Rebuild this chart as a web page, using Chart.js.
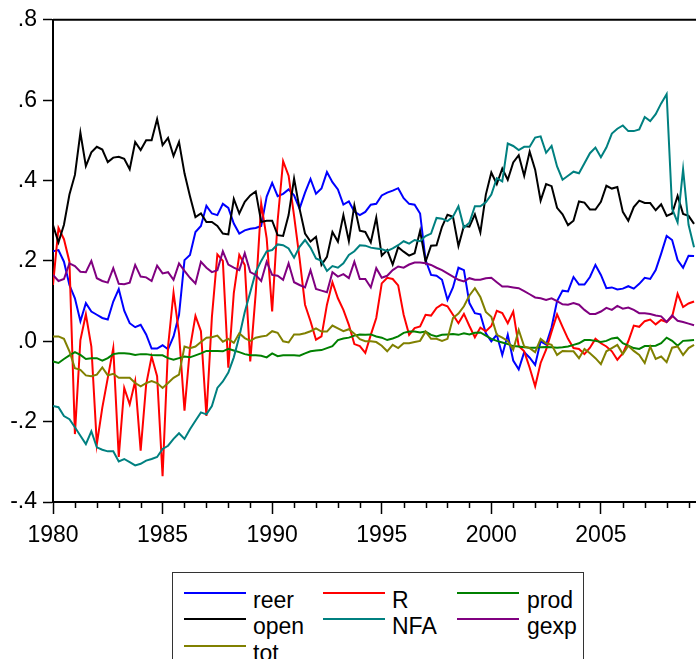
<!DOCTYPE html>
<html lang="en">
<head>
<meta charset="UTF-8">
<title>reer, open, tot, R, NFA, prod, gexp</title>
<script src="https://cdn.jsdelivr.net/npm/chart.js"></script>
<style>
    body {
        margin: 0;
        background: #fff;
        overflow: hidden;
        font-family: 'Liberation Sans', Arial, sans-serif;
    }
    #wrap {
        position: absolute;
        left: 0;
        top: 0;
        width: 710px;
        height: 560px;
    }
    .legend {
        position: absolute;
        left: 172px;
        top: 572px;
        width: 412px;
        height: 110px;
        border: 1px solid #333;
        box-sizing: border-box;
    }
    .legend .item {
        position: absolute;
        font-size: 23px;
        line-height: 23px;
        color: #000;
    }
    .legend .swatch {
        position: absolute;
        width: 62px;
        height: 2px;
    }
</style>
</head>
<body>
<div id="wrap"><canvas id="chart" width="710" height="560"></canvas></div>
<div class="legend" id="legend"></div>

<script>
    // quarterly data, 1980Q1 onwards
    const startYear = 1980;
    const yTicks = [-0.4, -0.2, 0, 0.2, 0.4, 0.6, 0.8];

    const reer = [0.224,0.227,0.198,0.14,0.107,0.05,0.095,0.074,0.066,0.058,
        0.054,0.099,0.13,0.076,0.045,0.035,0.041,0.017,-0.018,-0.018,
        -0.01,-0.02,0.012,0.066,0.202,0.215,0.272,0.287,0.337,0.318,
        0.314,0.342,0.332,0.293,0.268,0.276,0.28,0.282,0.287,0.36,
        0.394,0.361,0.367,0.378,0.363,0.33,0.37,0.404,0.367,0.38,
        0.421,0.396,0.378,0.34,0.348,0.323,0.314,0.322,0.34,0.342,
        0.363,0.37,0.375,0.381,0.356,0.342,0.34,0.318,0.202,0.165,
        0.163,0.153,0.103,0.134,0.183,0.177,0.095,0.07,0.067,0.02,
        0.0,0.016,-0.034,0.016,-0.048,-0.07,-0.027,-0.041,-0.059,0.0,
        -0.008,0.035,0.1,0.126,0.124,0.16,0.141,0.141,0.16,0.19,
        0.165,0.132,0.134,0.129,0.131,0.137,0.131,0.143,0.158,0.155,
        0.177,0.218,0.262,0.252,0.202,0.183,0.213,0.212];

    const open = [0.289,0.246,0.29,0.365,0.414,0.519,0.436,0.47,0.484,0.477,
        0.446,0.457,0.459,0.454,0.428,0.496,0.476,0.5,0.5,0.553,
        0.488,0.506,0.461,0.496,0.418,0.361,0.309,0.318,0.297,0.297,
        0.287,0.268,0.266,0.354,0.318,0.347,0.363,0.373,0.297,0.3,
        0.3,0.264,0.262,0.314,0.405,0.33,0.268,0.248,0.26,0.19,
        0.21,0.272,0.248,0.314,0.249,0.338,0.275,0.272,0.246,0.308,
        0.213,0.227,0.191,0.234,0.223,0.213,0.219,0.275,0.198,0.238,
        0.239,0.285,0.315,0.31,0.237,0.287,0.285,0.316,0.271,0.365,
        0.42,0.391,0.43,0.402,0.445,0.463,0.412,0.472,0.427,0.35,
        0.391,0.386,0.332,0.316,0.289,0.3,0.348,0.345,0.328,0.328,
        0.347,0.387,0.38,0.384,0.322,0.3,0.334,0.35,0.344,0.344,
        0.326,0.341,0.312,0.318,0.362,0.317,0.312,0.292];

    const tot = [0.012,0.012,0.006,-0.025,-0.067,-0.071,-0.085,-0.087,-0.083,-0.065,
        -0.085,-0.081,-0.091,-0.091,-0.091,-0.104,-0.112,-0.104,-0.099,-0.104,
        -0.116,-0.104,-0.091,-0.083,-0.013,-0.017,-0.013,-0.002,0.009,0.01,
        0.014,-0.001,0.006,-0.004,0.02,0.008,0.001,0.009,0.012,0.014,
        0.025,0.021,0.0,-0.003,0.017,0.017,0.02,0.025,0.032,0.024,
        0.024,0.039,0.032,0.025,0.03,0.019,0.005,0.0,0.0,-0.002,
        -0.011,-0.025,-0.009,-0.017,-0.005,-0.005,-0.002,0.001,0.024,0.006,
        0.006,0.001,0.006,0.058,0.069,0.087,0.114,0.132,0.11,0.073,
        0.061,0.016,0.009,0.001,-0.021,0.028,-0.013,-0.017,-0.027,0.006,
        -0.005,-0.009,-0.034,-0.024,-0.025,-0.025,-0.042,-0.019,-0.03,-0.042,
        -0.057,-0.025,-0.017,-0.009,-0.032,-0.011,-0.024,-0.034,-0.054,-0.013,
        -0.044,-0.038,-0.052,-0.016,-0.013,-0.034,-0.017,-0.009];

    const R = [0.14,0.282,0.254,0.198,-0.231,0.003,0.067,-0.013,-0.256,-0.165,
        -0.091,-0.017,-0.288,-0.116,-0.157,-0.099,-0.272,-0.108,-0.038,-0.087,
        -0.336,-0.013,0.121,0.02,-0.173,-0.017,0.063,0.025,-0.186,0.06,
        0.216,0.2,-0.066,0.12,0.215,0.19,-0.05,0.12,0.343,0.256,
        0.074,0.3,0.448,0.412,0.312,0.206,0.091,0.05,0.004,0.012,
        0.091,0.147,0.107,0.078,0.041,-0.007,-0.012,-0.029,0.016,0.058,
        0.144,0.158,0.155,0.139,0.066,0.016,0.033,0.037,0.066,0.064,
        0.083,0.092,0.087,0.066,0.045,0.068,0.038,0.01,0.034,0.025,
        0.038,0.076,0.07,0.045,0.074,-0.012,-0.025,-0.066,-0.112,-0.054,
        -0.021,0.024,0.067,0.036,0.006,-0.017,-0.019,-0.032,-0.016,0.006,
        -0.005,-0.013,-0.025,-0.046,-0.03,0.0,0.039,0.036,0.05,0.054,
        0.042,0.053,0.048,0.061,0.118,0.085,0.094,0.099];

    const NFA = [-0.161,-0.164,-0.186,-0.194,-0.214,-0.235,-0.256,-0.224,-0.264,-0.27,
        -0.274,-0.274,-0.299,-0.293,-0.301,-0.309,-0.305,-0.297,-0.293,-0.288,
        -0.268,-0.26,-0.243,-0.229,-0.243,-0.219,-0.198,-0.177,-0.182,-0.161,
        -0.116,-0.1,-0.078,-0.04,0.012,0.073,0.122,0.172,0.2,0.224,
        0.227,0.241,0.239,0.231,0.208,0.235,0.252,0.233,0.206,0.2,
        0.175,0.187,0.183,0.194,0.215,0.224,0.239,0.238,0.233,0.231,
        0.229,0.225,0.231,0.239,0.249,0.243,0.252,0.249,0.262,0.268,
        0.307,0.305,0.299,0.31,0.336,0.283,0.295,0.336,0.336,0.346,
        0.365,0.406,0.398,0.492,0.486,0.476,0.484,0.484,0.507,0.51,
        0.469,0.486,0.435,0.402,0.412,0.422,0.418,0.443,0.468,0.482,
        0.458,0.482,0.517,0.529,0.537,0.523,0.523,0.527,0.558,0.548,
        0.565,0.592,0.615,0.33,0.296,0.428,0.29,0.234];

    const prod = [-0.05,-0.054,-0.044,-0.035,-0.027,-0.034,-0.044,-0.042,-0.042,-0.048,
        -0.042,-0.032,-0.03,-0.03,-0.031,-0.034,-0.032,-0.032,-0.034,-0.035,
        -0.035,-0.042,-0.046,-0.042,-0.038,-0.04,-0.035,-0.03,-0.024,-0.024,
        -0.024,-0.025,-0.019,-0.023,-0.027,-0.032,-0.035,-0.035,-0.036,-0.04,
        -0.03,-0.037,-0.035,-0.035,-0.035,-0.036,-0.03,-0.025,-0.023,-0.022,
        -0.017,-0.012,0.003,0.007,0.009,0.014,0.017,0.016,0.017,0.012,
        0.009,0.003,0.007,0.012,0.021,0.024,0.024,0.022,0.024,0.016,
        0.012,0.016,0.017,0.018,0.016,0.02,0.017,0.021,0.022,0.014,
        0.006,0.001,-0.003,-0.007,-0.012,-0.013,-0.015,-0.016,-0.016,-0.015,
        -0.014,-0.015,-0.016,-0.015,-0.013,-0.009,-0.005,0.003,0.003,0.001,
        -0.002,0.001,0.007,0.009,-0.005,-0.011,-0.017,-0.019,-0.012,-0.012,
        -0.011,-0.005,0.009,0.001,-0.011,0.001,0.002,0.003];

    const gexp = [0.165,0.15,0.155,0.194,0.187,0.173,0.172,0.2,0.157,0.15,
        0.146,0.182,0.143,0.142,0.146,0.19,0.161,0.159,0.15,0.188,
        0.169,0.172,0.153,0.194,0.175,0.158,0.144,0.198,0.183,0.172,
        0.177,0.224,0.191,0.183,0.177,0.219,0.172,0.165,0.15,0.198,
        0.165,0.163,0.153,0.194,0.147,0.14,0.134,0.177,0.13,0.126,
        0.122,0.172,0.161,0.167,0.157,0.198,0.155,0.155,0.134,0.182,
        0.158,0.163,0.177,0.186,0.183,0.191,0.196,0.196,0.194,0.19,
        0.183,0.177,0.169,0.161,0.153,0.149,0.157,0.153,0.153,0.157,
        0.158,0.147,0.136,0.136,0.134,0.132,0.125,0.117,0.109,0.107,
        0.103,0.107,0.1,0.092,0.091,0.095,0.091,0.078,0.068,0.068,
        0.074,0.083,0.078,0.088,0.081,0.084,0.078,0.07,0.07,0.068,
        0.064,0.062,0.048,0.064,0.051,0.048,0.044,0.04];

    // legend order (row by row, three columns)
    const series = [
        { label: 'reer', data: reer, color: '#0000ff' },
        { label: 'R', data: R, color: '#ff0000' },
        { label: 'prod', data: prod, color: '#008000' },
        { label: 'open', data: open, color: '#000000' },
        { label: 'NFA', data: NFA, color: '#008080' },
        { label: 'gexp', data: gexp, color: '#800080' },
        { label: 'tot', data: tot, color: '#808000' }
    ];

    const FONT = "'Liberation Sans', Arial, sans-serif";

    function fmtY(v) {
        if (Math.abs(v) < 1e-9) return '.0';
        return (v < 0 ? '-' : '') + Math.abs(v).toFixed(1).replace(/^0/, '');
    }

    // frame top line + short minor year ticks
    const framePlugin = {
        id: 'frame',
        afterDraw(chart) {
            const { ctx, chartArea } = chart;
            const xs = chart.scales.x;
            ctx.save();
            ctx.strokeStyle = '#000';
            ctx.lineWidth = 2;
            ctx.beginPath();
            ctx.moveTo(chartArea.left, chartArea.top);
            ctx.lineTo(chartArea.right + 10, chartArea.top);
            ctx.stroke();
            ctx.lineWidth = 1.5;
            for (let yr = startYear; yr < 2010; yr++) {
                if (yr % 5 === 0) continue;
                const px = Math.round(xs.getPixelForValue(yr)) + 0.5;
                ctx.beginPath();
                ctx.moveTo(px, chartArea.bottom);
                ctx.lineTo(px, chartArea.bottom + 6);
                ctx.stroke();
            }
            ctx.restore();
        }
    };

    const datasets = series.map((s, idx) => ({
        label: s.label,
        data: s.data.map((v, i) => ({ x: startYear + i / 4, y: v })),
        borderColor: s.color,
        backgroundColor: s.color,
        borderWidth: 2,
        pointRadius: 0,
        tension: 0,
        fill: false,
        order: series.length - idx
    }));

    new Chart(document.getElementById('chart'), {
        type: 'line',
        data: { datasets: datasets },
        options: {
            responsive: false,
            animation: false,
            layout: { padding: { top: 15, right: 5, left: 0, bottom: 0 } },
            plugins: { legend: { display: false }, tooltip: { enabled: false } },
            scales: {
                x: {
                    type: 'linear',
                    min: 1980,
                    max: 2009.75,
                    afterFit: s => { s.height = 58; },
                    border: { display: true, color: '#000', width: 2 },
                    grid: {
                        display: true,
                        drawOnChartArea: false,
                        drawTicks: true,
                        tickLength: 12,
                        tickWidth: 1.5,
                        tickColor: c => (c.tick && c.tick.value % 5 === 0) ? '#000' : 'rgba(0,0,0,0)'
                    },
                    ticks: {
                        stepSize: 1,
                        includeBounds: false,
                        autoSkip: false,
                        maxRotation: 0,
                        padding: 8,
                        color: '#000',
                        font: { family: FONT, size: 23 },
                        callback: v => (v % 5 === 0 ? String(v) : '')
                    }
                },
                y: {
                    min: -0.4,
                    max: 0.8,
                    afterFit: s => { s.width = 53; },
                    afterBuildTicks: s => { s.ticks = yTicks.map(v => ({ value: v })); },
                    border: { display: true, color: '#000', width: 2 },
                    grid: {
                        display: true,
                        drawOnChartArea: false,
                        drawTicks: true,
                        tickLength: 10,
                        tickWidth: 1.5,
                        tickColor: '#000'
                    },
                    ticks: {
                        padding: 6,
                        color: '#000',
                        font: { family: FONT, size: 23 },
                        callback: v => fmtY(v)
                    }
                }
            }
        },
        plugins: [framePlugin]
    });

    // legend box, three columns
    const legend = document.getElementById('legend');
    const colLine = [11, 150, 284];
    const colText = [80, 219, 354];
    const rowY = [20, 46, 73];
    series.forEach((s, k) => {
        const col = k % 3, row = Math.floor(k / 3);
        const sw = document.createElement('div');
        sw.className = 'swatch';
        sw.style.left = colLine[col] + 'px';
        sw.style.top = (rowY[row] - 1) + 'px';
        sw.style.background = s.color;
        legend.appendChild(sw);
        const t = document.createElement('div');
        t.className = 'item';
        t.style.left = colText[col] + 'px';
        t.style.top = (rowY[row] - 4) + 'px';
        t.textContent = s.label;
        legend.appendChild(t);
    });
</script>
</body>
</html>
